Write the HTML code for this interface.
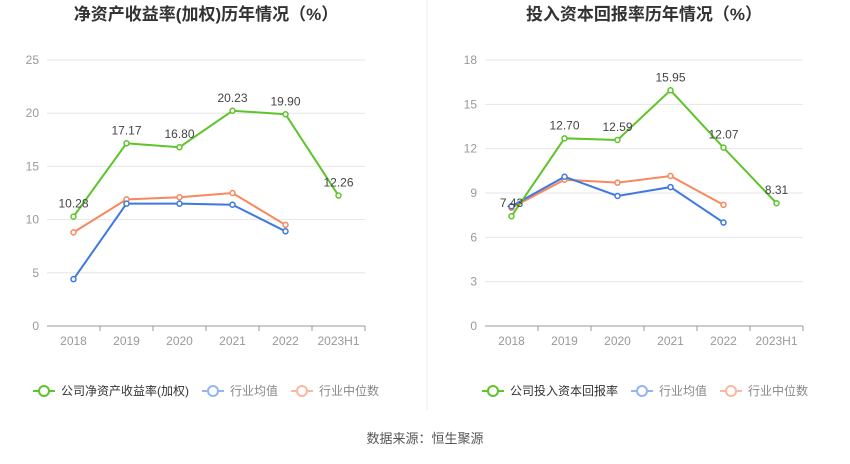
<!DOCTYPE html>
<html><head><meta charset="utf-8"><style>
body{margin:0;background:#fff;font-family:"Liberation Sans","Noto Sans CJK SC",sans-serif;}
svg text{font-family:"Liberation Sans","Noto Sans CJK SC",sans-serif;}
</style></head><body>
<svg id="c" width="850" height="459" xmlns="http://www.w3.org/2000/svg">
<line x1="427" y1="0" x2="427" y2="410" stroke="#eee"/>
<text x="425" y="443" font-size="13" fill="#555" text-anchor="middle">数据来源：恒生聚源</text>
</svg>
<script>
const categories=["2018","2019","2020","2021","2022","2023H1"];
const roeCompany=[10.28,17.17,16.80,20.23,19.90,12.26];
const roeAvg=[4.4,11.5,11.5,11.4,8.9];
const roeMedian=[8.8,11.9,12.1,12.5,9.5];
const roeTicks=[0,5,10,15,20,25];
const roiCompany=[7.43,12.70,12.59,15.95,12.07,8.31];
const roiAvg=[8.1,10.1,8.8,9.4,7.0];
const roiMedian=[8.0,9.9,9.7,10.15,8.2];
const roiTicks=[0,3,6,9,12,15,18];
const NS="http://www.w3.org/2000/svg";
const svg=document.getElementById('c');
function mk(tag,attrs,parent){const e=document.createElementNS(NS,tag);for(const k in attrs)e.setAttribute(k,attrs[k]);(parent||svg).appendChild(e);return e;}
function chart(opt){
  const g=mk('g',{});
  
  
  const x0=opt.x0,x1=opt.x1,yT=60,yB=326,max=opt.ticks[opt.ticks.length-1];
  const step=(x1-x0)/categories.length;
  const xs=i=>x0+step*(i+0.5);
  const ys=v=>yB-(v/max)*(yB-yT);
  const t=mk('text',{x:(x0+x1)/2,y:20,'font-size':17,'font-weight':'bold',fill:'#333','text-anchor':'middle'},g);
  t.textContent=opt.title;
  
  
  opt.ticks.forEach(v=>{
    const l=mk('line',{x1:x0,x2:x1,y1:ys(v),y2:ys(v),stroke:v===0?'#999':'#e6e6e6'},g);
    
    
    const tx=mk('text',{x:x0-8,y:ys(v)+4,'font-size':12,fill:'#999','text-anchor':'end'},g);
    tx.textContent=v;
    
    
  });
  categories.forEach((c,i)=>{
    const tk=mk('line',{x1:x0+step*(i+1),x2:x0+step*(i+1),y1:yB,y2:yB+5,stroke:'#999'},g);
    
    
    const tx=mk('text',{x:xs(i),y:yB+19,'font-size':12,fill:'#999','text-anchor':'middle'},g);
    tx.textContent=c;
    
    
  });
  const series=[[opt.med,'#f7885f','median'],[opt.avg,'#3f78e0','average'],[opt.comp,'#5ec42a','company']];
  series.forEach(([d,col,nm])=>{
    const pl=mk('polyline',{points:d.map((v,i)=>xs(i)+','+ys(v)).join(' '),fill:'none',stroke:col,'stroke-width':2},g);
    
    
    d.forEach((v,i)=>{
      const p=mk('circle',{cx:xs(i),cy:ys(v),r:2.5,fill:'#fff',stroke:col,'stroke-width':1.5},g);
      
      
    });
  });
  opt.comp.forEach((v,i)=>{
    const tx=mk('text',{x:xs(i),y:ys(v)-9,'font-size':12,fill:'#444','text-anchor':'middle'},g);
    tx.textContent=v.toFixed(2);
    
    
  });
  let lx=opt.legendX;
  [[opt.legend,'#5ec42a','#333'],['行业均值','#94b6f0','#888'],['行业中位数','#f9b9a0','#888']].forEach(([lab,col,tc])=>{
    const lg=mk('g',{},g);
    
    
    mk('line',{x1:lx,x2:lx+22,y1:391,y2:391,stroke:col,'stroke-width':2},lg);
    mk('circle',{cx:lx+11,cy:391,r:5,fill:'#fff',stroke:col,'stroke-width':2},lg);
    const tx=mk('text',{x:lx+28,y:395,'font-size':12,fill:tc},lg);
    tx.textContent=lab;
    lx+=28+tx.getComputedTextLength()+13;
  });
}
chart({name:'roe-chart',title:'净资产收益率(加权)历年情况（%）',x0:47,x1:365,ticks:roeTicks,comp:roeCompany,avg:roeAvg,med:roeMedian,legend:'公司净资产收益率(加权)',legendX:33});
chart({name:'roi-chart',title:'投入资本回报率历年情况（%）',x0:485,x1:803,ticks:roiTicks,comp:roiCompany,avg:roiAvg,med:roiMedian,legend:'公司投入资本回报率',legendX:482});
</script>
</body></html>
